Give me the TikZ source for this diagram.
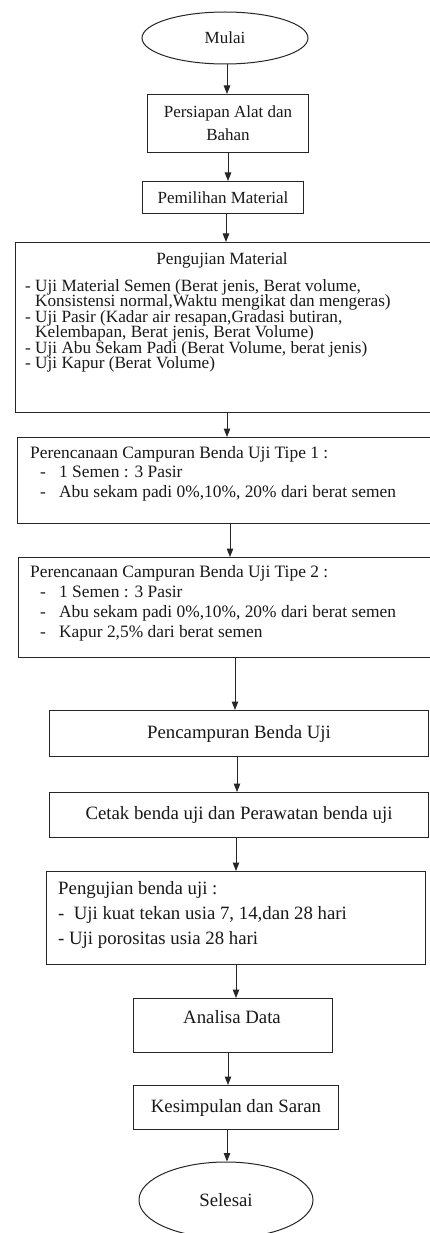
\documentclass[tikz,border=0pt]{standalone}
\usepackage{fontspec}
\setmainfont{Liberation Serif}
\usetikzlibrary{arrows.meta,shapes.geometric}
\newcommand\mylines[2]{\vtop{\baselineskip=#1\lineskiplimit=-\maxdimen\lineskip=0pt #2}}
\begin{document}
\begin{tikzpicture}[x=1pt,y=-1pt,
  box/.style={draw=black!85, line width=1pt, rectangle, inner sep=0pt, anchor=north west, text=black!90},
  ell/.style={draw=black!85, line width=1pt, ellipse, inner sep=0pt, text=black!90},
  arr/.style={draw=black!85, line width=1pt, -{Triangle[width=6.5pt,length=8.5pt]}},
  txt/.style={inner sep=0pt, text=black!90},
  fa/.style={font=\fontsize{17}{23}\selectfont},
  fm/.style={font=\fontsize{17.2}{16}\selectfont},
  ft/.style={font=\fontsize{17.4}{16}\selectfont},
  fb/.style={font=\fontsize{18.8}{22}\selectfont},
]
\useasboundingbox (0,0) rectangle (430,1233);
\clip (0,0) rectangle (430,1233);
\fill[white] (0,0) rectangle (430,1233);

% x columns for the connectors
\coordinate (k226) at (226,0);
\coordinate (k227) at (227,0);
\coordinate (k228) at (228,0);
\coordinate (k230) at (230,0);
\coordinate (k235) at (235,0);
\coordinate (k236) at (236,0);
\coordinate (k237) at (237,0);

\node[ell, fa, minimum width=166pt, minimum height=52pt] (start) at (225,38) {Mulai};

\node[box, fa, align=center, minimum width=161pt, minimum height=58pt] (b1) at (147,94) {Persiapan Alat dan\\Bahan};

\node[box, fa, minimum width=161pt, minimum height=32pt] (b2) at (142,181) {Pemilihan Material};

\node[box, minimum width=420pt, minimum height=170pt] (b3) at (15,242) {};
\node[txt, fm, anchor=base] (b3t) at (222,265) {Pengujian Material};
\node[txt, fm, anchor=base west] (b3l) at (25,291) {\mylines{15.5pt}{%
\hbox{- Uji Material Semen (Berat jenis, Berat volume,}
\hbox{\phantom{- }Konsistensi normal,Waktu mengikat dan mengeras)}
\hbox{- Uji Pasir (Kadar air resapan,Gradasi butiran,}
\hbox{\phantom{- }Kelembapan, Berat jenis, Berat Volume)}
\hbox{- Uji Abu Sekam Padi (Berat Volume, berat jenis)}
\hbox{- Uji Kapur (Berat Volume)}}};

\node[box, minimum width=418pt, minimum height=86pt] (b4) at (17,437) {};
\node[txt, ft, anchor=base west] (b4l) at (30,458) {\mylines{19.5pt}{%
\hbox{Perencanaan Campuran Benda Uji Tipe 1 :}
\hbox{\hspace*{10pt}\makebox[19pt][l]{-}1 Semen : 3 Pasir}
\hbox{\hspace*{10pt}\makebox[19pt][l]{-}Abu sekam padi 0\%,10\%, 20\% dari berat semen}}};

\node[box, minimum width=417pt, minimum height=100pt] (b5) at (18,557) {};
\node[txt, ft, anchor=base west] (b5l) at (30,577) {\mylines{20pt}{%
\hbox{Perencanaan Campuran Benda Uji Tipe 2 :}
\hbox{\hspace*{10pt}\makebox[19pt][l]{-}1 Semen : 3 Pasir}
\hbox{\hspace*{10pt}\makebox[19pt][l]{-}Abu sekam padi 0\%,10\%, 20\% dari berat semen}
\hbox{\hspace*{10pt}\makebox[19pt][l]{-}Kapur 2,5\% dari berat semen}}};

\node[box, fb, minimum width=379pt, minimum height=46pt] (b6) at (49,710) {Pencampuran Benda Uji};

\node[box, fb, minimum width=379pt, minimum height=45pt] (b7) at (49,792) {Cetak benda uji dan Perawatan benda uji};

\node[box, minimum width=379pt, minimum height=93pt] (b8) at (46,871) {};
\node[txt, fb, anchor=base west] (b8l) at (58,894) {\mylines{25pt}{%
\hbox{Pengujian benda uji :}
\hbox{-\ \ Uji kuat tekan usia 7, 14,dan 28 hari}
\hbox{- Uji porositas usia 28 hari}}};

\node[box, minimum width=199pt, minimum height=54pt] (b9) at (133,998) {};
\node[txt, fb] (b9t) at (232,1017) {Analisa Data};

\node[box, fb, minimum width=205pt, minimum height=44pt] (b10) at (133,1085) {Kesimpulan dan Saran};

\node[ell, fb, minimum width=174pt, minimum height=76pt] (stop) at (226,1200) {Selesai};

\draw[arr] (start.south -| k227) -- (b1.north -| k227);
\draw[arr] (b1.south -| k228) -- (b2.north -| k228);
\draw[arr] (b2.south -| k226) -- (b3.north -| k226);
\draw[arr] (b3.south -| k227) -- (b4.north -| k227);
\draw[arr] (b4.south -| k230) -- (b5.north -| k230);
\draw[arr] (b5.south -| k235) -- (b6.north -| k235);
\draw[arr] (b6.south -| k237) -- (b7.north -| k237);
\draw[arr] (b7.south -| k236) -- (b8.north -| k236);
\draw[arr] (b8.south -| k236) -- (b9.north -| k236);
\draw[arr] (b9.south -| k228) -- (b10.north -| k228);
\draw[arr] (b10.south -| k227) -- (stop.north -| k227);
\end{tikzpicture}
\end{document}
